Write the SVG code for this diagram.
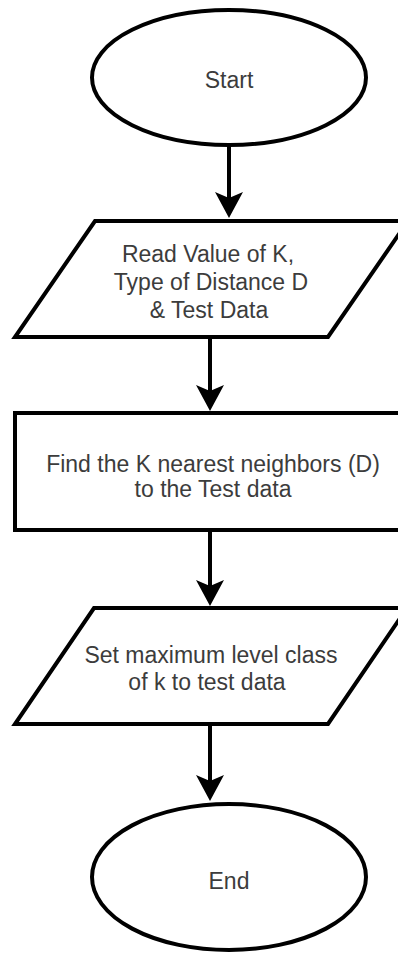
<svg xmlns="http://www.w3.org/2000/svg" width="398" height="958" viewBox="0 0 398 958">
  <style>
    .shape { fill: #ffffff; stroke: #000000; stroke-width: 4; }
    .label { font-family: "Liberation Sans", Arial, sans-serif; font-size: 23px; fill: #3c3c3c; text-anchor: middle; }
    .flow { stroke: #000000; stroke-width: 4; fill: none; marker-end: url(#arrow); }
  </style>
  <defs>
    <marker id="arrow" markerUnits="userSpaceOnUse" viewBox="0 0 26 28" markerWidth="26" markerHeight="28" refX="16" refY="14" orient="auto">
      <path d="M0,0 L26,14 L0,28 L6,14 Z" fill="#000000"/>
    </marker>
  </defs>
  <rect width="398" height="958" fill="#ffffff"/>

  <g id="start">
    <ellipse class="shape" cx="229" cy="77.5" rx="137" ry="67.5"/>
    <text class="label" x="229" y="88">Start</text>
  </g>

  <g id="read-input">
    <polygon class="shape" points="95,221 408,221 328,337 15,337"/>
    <text class="label" x="208" y="262">Read Value of K,</text>
    <text class="label" x="211" y="290">Type of Distance D</text>
    <text class="label" x="209" y="318">&amp; Test Data</text>
  </g>

  <g id="find-neighbors">
    <rect class="shape" x="15" y="413" width="397" height="117"/>
    <text class="label" x="213" y="472">Find the K nearest neighbors (D)</text>
    <text class="label" x="213" y="497">to the Test data</text>
  </g>

  <g id="set-class">
    <polygon class="shape" points="94,608 407,608 328,724 15,724"/>
    <text class="label" x="211" y="663">Set maximum level class</text>
    <text class="label" x="207" y="690">of k to test data</text>
  </g>

  <g id="end">
    <ellipse class="shape" cx="229" cy="877" rx="137" ry="73"/>
    <text class="label" x="229" y="889">End</text>
  </g>

  <g id="connectors">
    <line class="flow" x1="229" y1="146" x2="229" y2="208"/>
    <line class="flow" x1="210" y1="339" x2="210" y2="401"/>
    <line class="flow" x1="210" y1="532" x2="210" y2="596"/>
    <line class="flow" x1="210" y1="726" x2="210" y2="791"/>
  </g>
</svg>
